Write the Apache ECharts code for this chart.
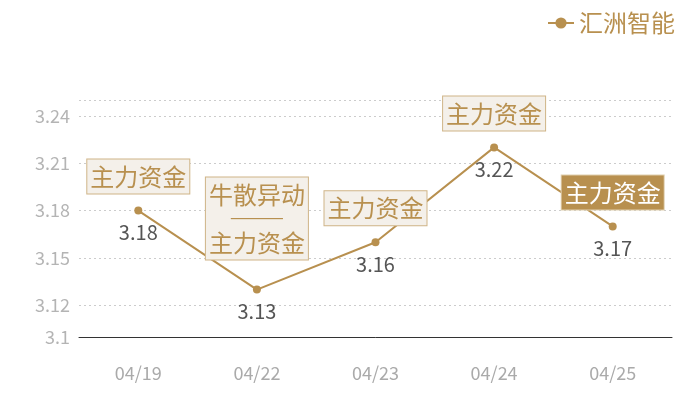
<!DOCTYPE html>
<html><head><meta charset="utf-8">
<script src="https://cdn.jsdelivr.net/npm/echarts@6/dist/echarts.min.js"></script>
<style>html,body{margin:0;padding:0;background:#fff}#c{width:700px;height:400px}</style>
</head><body><div id="c"></div>
<script>
const categories = ['04/19', '04/22', '04/23', '04/24', '04/25'];
const prices = [3.18, 3.13, 3.16, 3.22, 3.17];
const notes = ['主力资金', '牛散异动\n{hr|}\n主力资金', '主力资金', '主力资金', '主力资金'];
const highlighted = [false, false, false, false, true];
const seriesName = '汇洲智能';

const gold = '#b8904f';
const FONT = '"Noto Sans CJK SC", "Noto Sans", sans-serif';

const markData = categories.map((c, i) => {
  const hl = highlighted[i];
  const multi = notes[i].indexOf('\n') >= 0;
  return {
    coord: [c, prices[i]],
    value: notes[i],
    label: {
      show: true,
      position: 'top',
      distance: multi ? 30 : 17,
      formatter: notes[i],
      fontFamily: FONT,
      fontSize: 24,
      lineHeight: 24,
      color: hl ? '#fff' : '#b8904f',
      backgroundColor: hl ? '#b8904f' : '#f4f0ea',
      borderColor: hl ? '#e0cfae' : '#cfb487',
      borderWidth: 1,
      padding: [5, 3, 5, 3],
      rich: {
        hr: {width: 52, height: 0, lineHeight: 24, borderColor: '#b8904f', borderWidth: 1, align: 'center'}
      }
    }
  };
});

const chart = echarts.init(document.getElementById('c'), null, {renderer: 'canvas'});
chart.setOption({
  animation: false,
  textStyle: {fontFamily: FONT},
  legend: {
    right: 20, top: 6,
    itemWidth: 26, itemHeight: 14, itemGap: 6,
    textStyle: {color: gold, fontSize: 24, fontFamily: FONT, padding: [0, 0, 0, 0]},
    data: [seriesName]
  },
  grid: {left: 79, right: 28, top: 100, bottom: 63},
  xAxis: {
    type: 'category',
    data: categories,
    boundaryGap: true,
    axisLine: {lineStyle: {color: '#333', width: 1}},
    axisTick: {show: false},
    axisLabel: {color: '#aaa', fontSize: 18, margin: 27, fontFamily: FONT}
  },
  yAxis: {
    type: 'value',
    min: 3.1, max: 3.25,
    splitNumber: 5,
    axisLine: {show: false},
    axisTick: {show: false},
    axisLabel: {color: '#b4b4b4', fontSize: 18, margin: 9, showMaxLabel: false, fontFamily: FONT},
    splitLine: {lineStyle: {color: '#ccc', type: [2, 3], width: 1}}
  },
  series: [{
    name: seriesName,
    type: 'line',
    data: prices,
    symbol: 'circle',
    symbolSize: 8,
    color: gold,
    lineStyle: {color: gold, width: 2},
    itemStyle: {color: gold},
    label: {show: true, position: 'bottom', distance: 8, color: '#555', fontSize: 20, fontFamily: FONT},
    markPoint: {
      symbol: 'circle',
      symbolSize: 0,
      silent: true,
      data: markData
    }
  }]
});
</script></body></html>
